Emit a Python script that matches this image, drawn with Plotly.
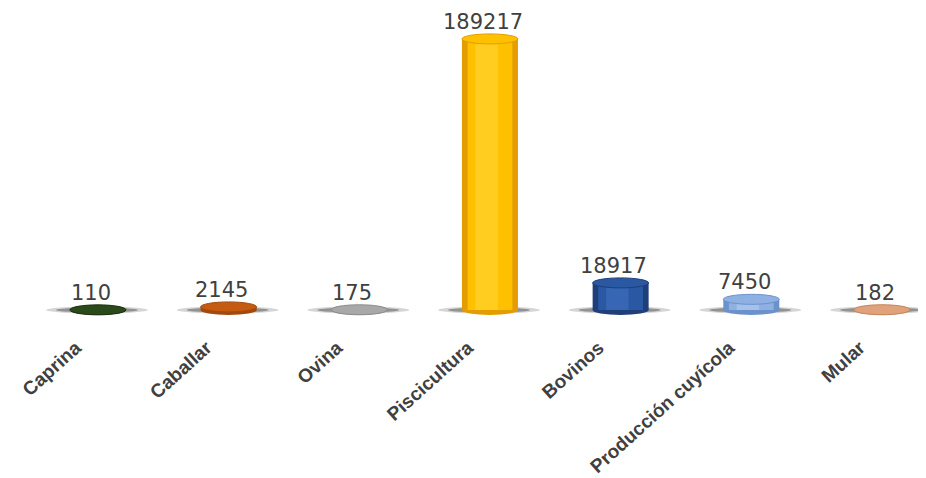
import plotly.graph_objects as go

categories = ["Caprina", "Caballar", "Ovina", "Piscicultura", "Bovinos",
              "Producción cuyícola", "Mular"]
values = [110, 2145, 175, 189217, 18917, 7450, 182]
dark_colors = ["#1b3010", "#a3490b", "#8c8c8c", "#e39d00", "#1f3f7a", "#6c92cc", "#c4875a"]
base_colors = ["#2a4a19", "#c55a11", "#a8a8a8", "#ffc000", "#2b58a3", "#8eb0e3", "#dfa27a"]
light_colors = ["#355a21", "#d96d22", "#bdbdbd", "#ffcd1f", "#3666b4", "#a6c2ec", "#e9b592"]

xs = list(range(len(categories)))

# scale helpers (data units per pixel) for cap / shadow geometry
UNITS_PER_PX = 698.0
X_PER_PX = 1 / 130.67
cap_h = 5 * UNITS_PER_PX
bar_w = 56 * X_PER_PX

fig = go.Figure()

# cylinder body as layered bars to fake a gradient
fig.add_trace(go.Bar(x=xs, y=values, width=bar_w, marker=dict(color=dark_colors, line=dict(width=0)),
                     hoverinfo="skip"))
fig.add_trace(go.Bar(x=xs, y=values, width=bar_w * 0.8, marker=dict(color=base_colors, line=dict(width=0)),
                     hoverinfo="skip"))
fig.add_trace(go.Bar(x=[x - bar_w * 0.06 for x in xs], y=values, width=bar_w * 0.4,
                     marker=dict(color=light_colors, line=dict(width=0)), hoverinfo="skip"))

shapes = []
for x, v, d, b, l in zip(xs, values, dark_colors, base_colors, light_colors):
    # soft shadow on the floor
    shapes.append(dict(type="circle", xref="x", yref="y", layer="below",
                       x0=x - 52 * X_PER_PX, x1=x + 50 * X_PER_PX,
                       y0=-3.5 * UNITS_PER_PX, y1=3.5 * UNITS_PER_PX,
                       fillcolor="rgba(150,150,150,0.4)", line=dict(width=0)))
    shapes.append(dict(type="circle", xref="x", yref="y", layer="below",
                       x0=x - 42 * X_PER_PX, x1=x + 40 * X_PER_PX,
                       y0=-2.5 * UNITS_PER_PX, y1=2.5 * UNITS_PER_PX,
                       fillcolor="rgba(80,80,80,0.5)", line=dict(width=0)))
    # bottom of cylinder
    shapes.append(dict(type="circle", xref="x", yref="y", layer="below",
                       x0=x - bar_w / 2, x1=x + bar_w / 2, y0=-cap_h, y1=cap_h,
                       fillcolor=d, line=dict(width=0)))
    # top cap
    shapes.append(dict(type="circle", xref="x", yref="y", layer="above",
                       x0=x - bar_w / 2, x1=x + bar_w / 2, y0=v - cap_h, y1=v + cap_h,
                       fillcolor=b, line=dict(width=1, color=d)))

annotations = []
for x, v in zip(xs, values):
    annotations.append(dict(x=x, y=v, xref="x", yref="y", text=str(v), showarrow=False,
                            yanchor="middle", xanchor="center", xshift=-7, yshift=17,
                            font=dict(family="DejaVu Sans", size=21, color="#404040")))

fig.update_layout(
    width=918, height=470,
    margin=dict(l=2, r=6, t=2, b=156),
    plot_bgcolor="white", paper_bgcolor="white",
    barmode="overlay", showlegend=False,
    shapes=shapes, annotations=annotations,
    xaxis=dict(range=[-0.673, 6.291], tickmode="array", tickvals=xs, ticktext=categories,
               tickangle=-42, showgrid=False, zeroline=False, showline=False, automargin=False,
               ticks="", ticklabelstandoff=10, ticklabelshift=-22,
               tickfont=dict(family="Liberation Sans", size=19, color="#404040", weight="bold")),
    yaxis=dict(range=[-8376, 209400], visible=False, showgrid=False, zeroline=False),
)

fig.write_html("out.html")
